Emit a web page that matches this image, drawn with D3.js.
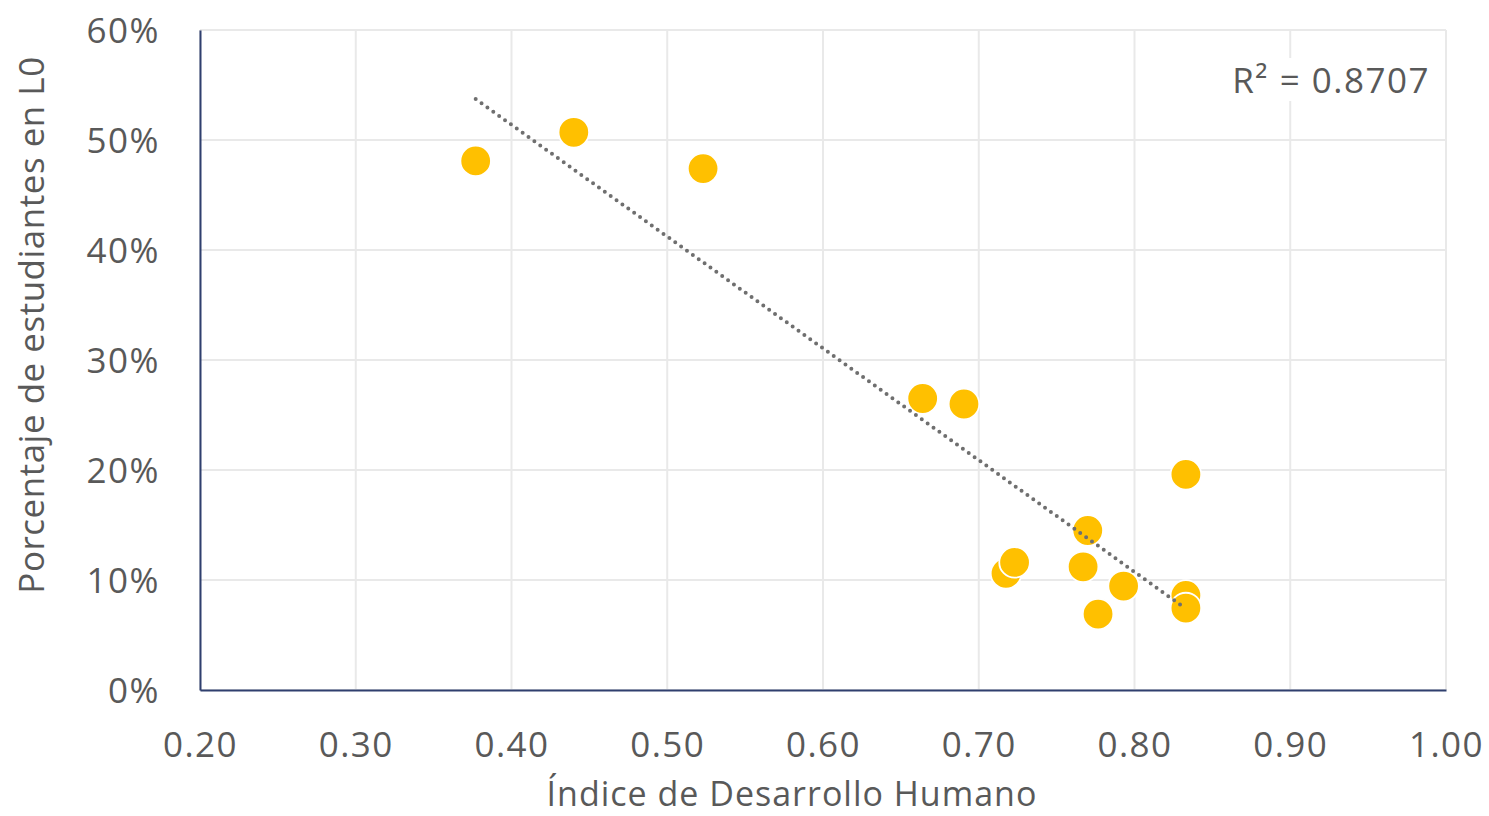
<!DOCTYPE html>
<html><head><meta charset="utf-8">
<script src="https://cdn.jsdelivr.net/npm/d3@7"></script>
<style>
body{margin:0;background:#fff;}
text{font-family:"Open Sans",sans-serif;fill:#595959;}
</style></head>
<body>
<svg id="c" width="1489" height="816"></svg>
<script>
const idh = [0.377,0.440,0.523,0.664,0.6905,0.833,0.770,0.7175,0.723,0.767,0.793,0.7766,0.833,0.833];
const pctL0 = [0.481,0.507,0.474,0.265,0.260,0.196,0.145,0.106,0.116,0.112,0.0945,0.069,0.086,0.0745];
const xTicks = [0.2,0.3,0.4,0.5,0.6,0.7,0.8,0.9,1.0];
const yTicks = [0,0.1,0.2,0.3,0.4,0.5,0.6];
const r2Label = "R² = 0.8707";
const xTitle = "Índice de Desarrollo Humano";
const yTitle = "Porcentaje de estudiantes en L0";

const svg = d3.select("#c");
const L=200,R=1446,T=30,B=690;
const x = d3.scaleLinear().domain([0.2,1.0]).range([L,R]);
const y = d3.scaleLinear().domain([0,0.6]).range([B,T]);

// gridlines
svg.append("g").selectAll("line").data(yTicks).join("line")
  .attr("x1",L).attr("x2",R).attr("y1",d=>y(d)).attr("y2",d=>y(d))
  .attr("stroke","#e9e9e9").attr("stroke-width",2);
svg.append("g").selectAll("line").data(xTicks).join("line")
  .attr("x1",d=>x(d)).attr("x2",d=>x(d)).attr("y1",T).attr("y2",B)
  .attr("stroke","#e9e9e9").attr("stroke-width",2);

// axes
const xAxis = svg.append("g").attr("transform",`translate(0,${B})`)
  .call(d3.axisBottom(x).tickValues(xTicks).tickFormat(d3.format(".2f")).tickSize(0).tickPadding(42));
const yAxis = svg.append("g").attr("transform",`translate(${L},0)`)
  .call(d3.axisLeft(y).tickValues(yTicks).tickFormat(d3.format(".0%")).tickSize(0).tickPadding(40));
[xAxis,yAxis].forEach(a=>{
  a.select(".domain").attr("stroke","#2F3F6E").attr("stroke-width",2);
  a.selectAll("text").attr("font-size",35).attr("font-family","Open Sans").attr("fill","#595959")
   .attr("letter-spacing","1.5px");
});
yAxis.selectAll("text").attr("dy","0.36em");

// points
svg.append("g").selectAll("circle").data(idh.map((v,i)=>[v,pctL0[i]])).join("circle")
  .attr("cx",d=>x(d[0])).attr("cy",d=>y(d[1])).attr("r",15.3)
  .attr("fill","#FFC000").attr("stroke","#fff").attr("stroke-width",1.8);

// trendline (least squares), drawn above markers
const n=idh.length, mx=d3.mean(idh), my=d3.mean(pctL0);
let sxy=0,sxx=0; for(let i=0;i<n;i++){sxy+=(idh[i]-mx)*(pctL0[i]-my); sxx+=(idh[i]-mx)**2;}
const slope=sxy/sxx, icpt=my-slope*mx;
const [x0,x1]=d3.extent(idh);
const px0=x(x0), py0=y(icpt+slope*x0), px1=x(x1), py1=y(icpt+slope*x1);
const len=Math.hypot(px1-px0,py1-py0), gap=len/Math.round(len/7.2);
svg.append("line").attr("x1",px0).attr("y1",py0).attr("x2",px1).attr("y2",py1)
  .attr("stroke","#6f6f6f").attr("stroke-width",4)
  .attr("stroke-linecap","round").attr("stroke-dasharray",`0,${gap}`);

// R2 label
const rg = svg.append("g");
const rect = rg.append("rect").attr("fill","#fff");
const rl = rg.append("text").attr("x",1430).attr("y",93).attr("text-anchor","end")
  .attr("font-size",35).attr("letter-spacing","1.5px").text(r2Label);
const bb = rl.node().getBBox();
rect.attr("x",bb.x-8).attr("y",bb.y+2).attr("width",bb.width+16).attr("height",bb.height-4);

// titles
svg.append("text").attr("x",792).attr("y",806).attr("text-anchor","middle")
  .attr("font-size",34).attr("letter-spacing","1px").text(xTitle);
svg.append("text").attr("transform",`translate(44,325) rotate(-90)`)
  .attr("text-anchor","middle").attr("font-size",35).attr("letter-spacing","0.5px").text(yTitle);
</script>
</body></html>
